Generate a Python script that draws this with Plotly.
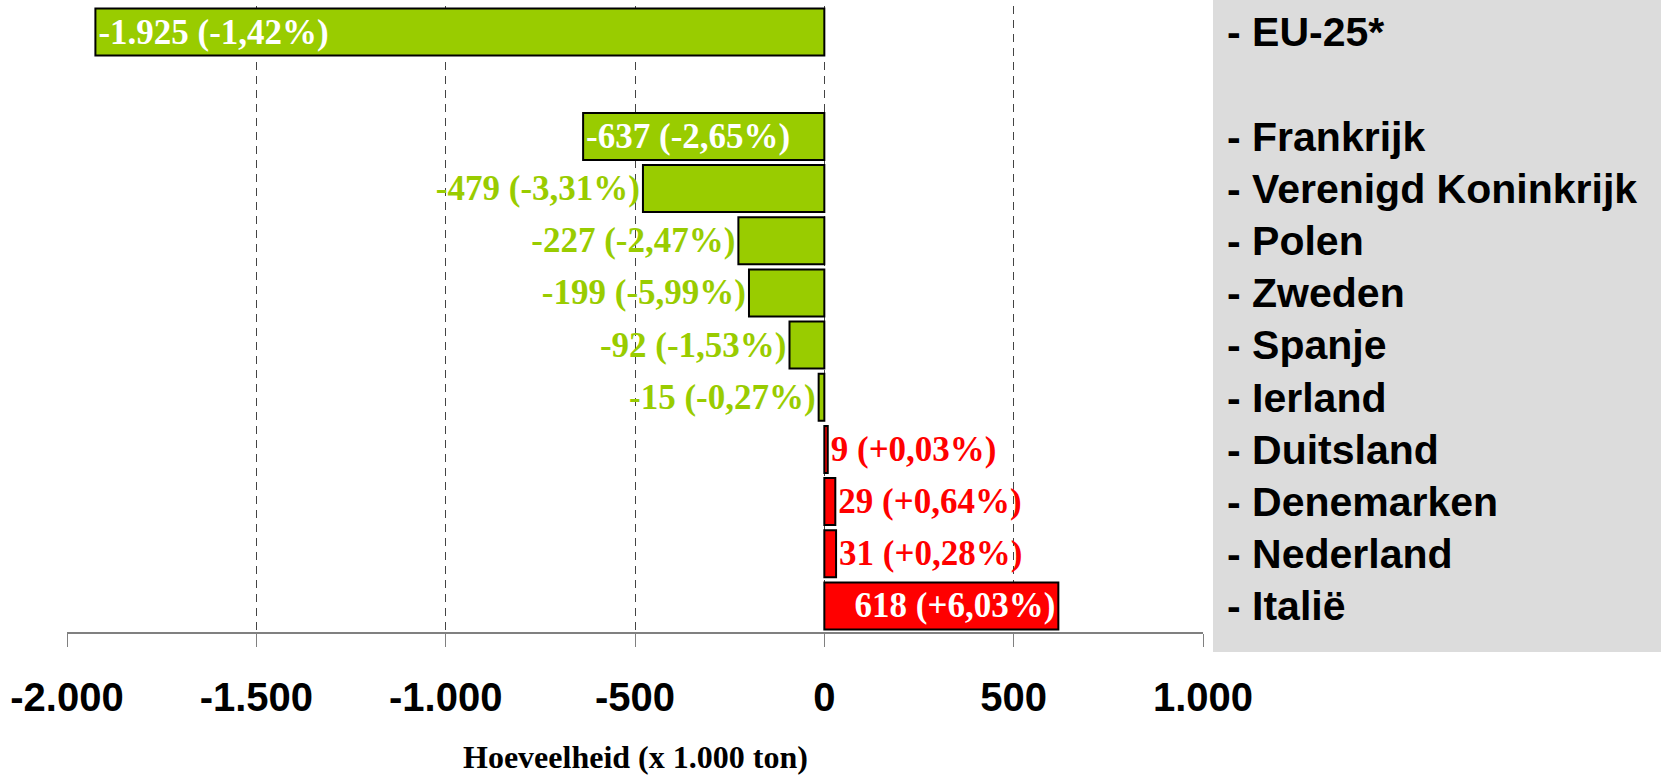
import plotly.graph_objects as go

categories = ["- EU-25*", " ", "- Frankrijk", "- Verenigd Koninkrijk", "- Polen", "- Zweden",
              "- Spanje", "- Ierland", "- Duitsland", "- Denemarken", "- Nederland", "- Italië"]
values = [-1925, None, -637, -479, -227, -199, -92, -15, 9, 29, 31, 618]
percents = ["-1,42%", "", "-2,65%", "-3,31%", "-2,47%", "-5,99%", "-1,53%", "-0,27%",
            "+0,03%", "+0,64%", "+0,28%", "+6,03%"]
label_inside = [True, False, True, False, False, False, False, False, False, False, False, True]

tick_vals = [-2000, -1500, -1000, -500, 0, 500, 1000]
tick_text = ["-2.000", "-1.500", "-1.000", "-500", "0", "500", "1.000"]

GREEN = "#99CC00"
RED = "#FF0000"


def fmt(v):
    s = f"{abs(v):,}".replace(",", ".")
    return ("-" if v < 0 else "") + s


texts, colors, positions, text_colors = [], [], [], []
for v, p, ins in zip(values, percents, label_inside):
    if v is None:
        texts.append("")
        colors.append(GREEN)
        positions.append("none")
        text_colors.append("white")
        continue
    texts.append(f"{fmt(v)} ({p})")
    colors.append(GREEN if v < 0 else RED)
    positions.append("inside" if ins else "outside")
    text_colors.append("white" if ins else (GREEN if v < 0 else RED))

fig = go.Figure()
fig.add_trace(go.Bar(
    y=categories, x=values, orientation="h",
    marker=dict(color=colors, line=dict(color="black", width=2)),
    text=texts, textposition=positions, insidetextanchor="end",
    textfont=dict(family="Liberation Serif, Times New Roman, serif", size=35,
                  color=text_colors, weight="bold"),
    cliponaxis=False, hoverinfo="skip", showlegend=False,
))

W, H = 1661, 777
ml, mr, mt, mb = 67, W - 1203, 6, H - 632
pw, ph = W - ml - mr, H - mt - mb

fig.update_layout(
    width=W, height=H,
    margin=dict(l=ml, r=mr, t=mt, b=mb),
    paper_bgcolor="white", plot_bgcolor="white",
    bargap=0.1,
    xaxis=dict(
        range=[-2000, 1000], tickvals=tick_vals, ticktext=tick_text,
        showgrid=True, gridcolor="#444444", gridwidth=1, griddash="8px,6px",
        zeroline=False, showline=True, linecolor="#808080", linewidth=2,
        ticks="outside", ticklen=13, tickcolor="#808080", tickwidth=1,
        ticklabelstandoff=16,
        tickfont=dict(family="Liberation Sans, Arial, sans-serif", size=40,
                      color="black", weight="bold"),
        fixedrange=True,
    ),
    yaxis=dict(
        categoryorder="array", categoryarray=categories,
        range=[len(categories) - 0.5, -0.5],
        side="right", showgrid=False, zeroline=False, showline=False, ticks="",
        ticklabelstandoff=23,
        tickfont=dict(family="Liberation Sans, Arial, sans-serif", size=41,
                      color="black", weight="bold"),
        fixedrange=True,
    ),
    shapes=[dict(
        type="rect", xref="paper", yref="paper", layer="below",
        x0=(1213 - ml) / pw, x1=(W + 5 - ml) / pw,
        y0=(632 - 652) / ph, y1=1 + (mt + 2) / ph,
        fillcolor="#DCDCDC", line=dict(width=0),
    )],
    annotations=[dict(
        text="Hoeveelheid (x 1.000 ton)", xref="paper", yref="paper",
        x=0.5, y=(632 - 757) / ph, xanchor="center", yanchor="middle",
        showarrow=False,
        font=dict(family="Liberation Serif, Times New Roman, serif", size=32,
                  color="black", weight="bold"),
    )],
)

fig.write_html("out.html", config={"displayModeBar": False},
               post_script="document.body.style.margin='0';")
